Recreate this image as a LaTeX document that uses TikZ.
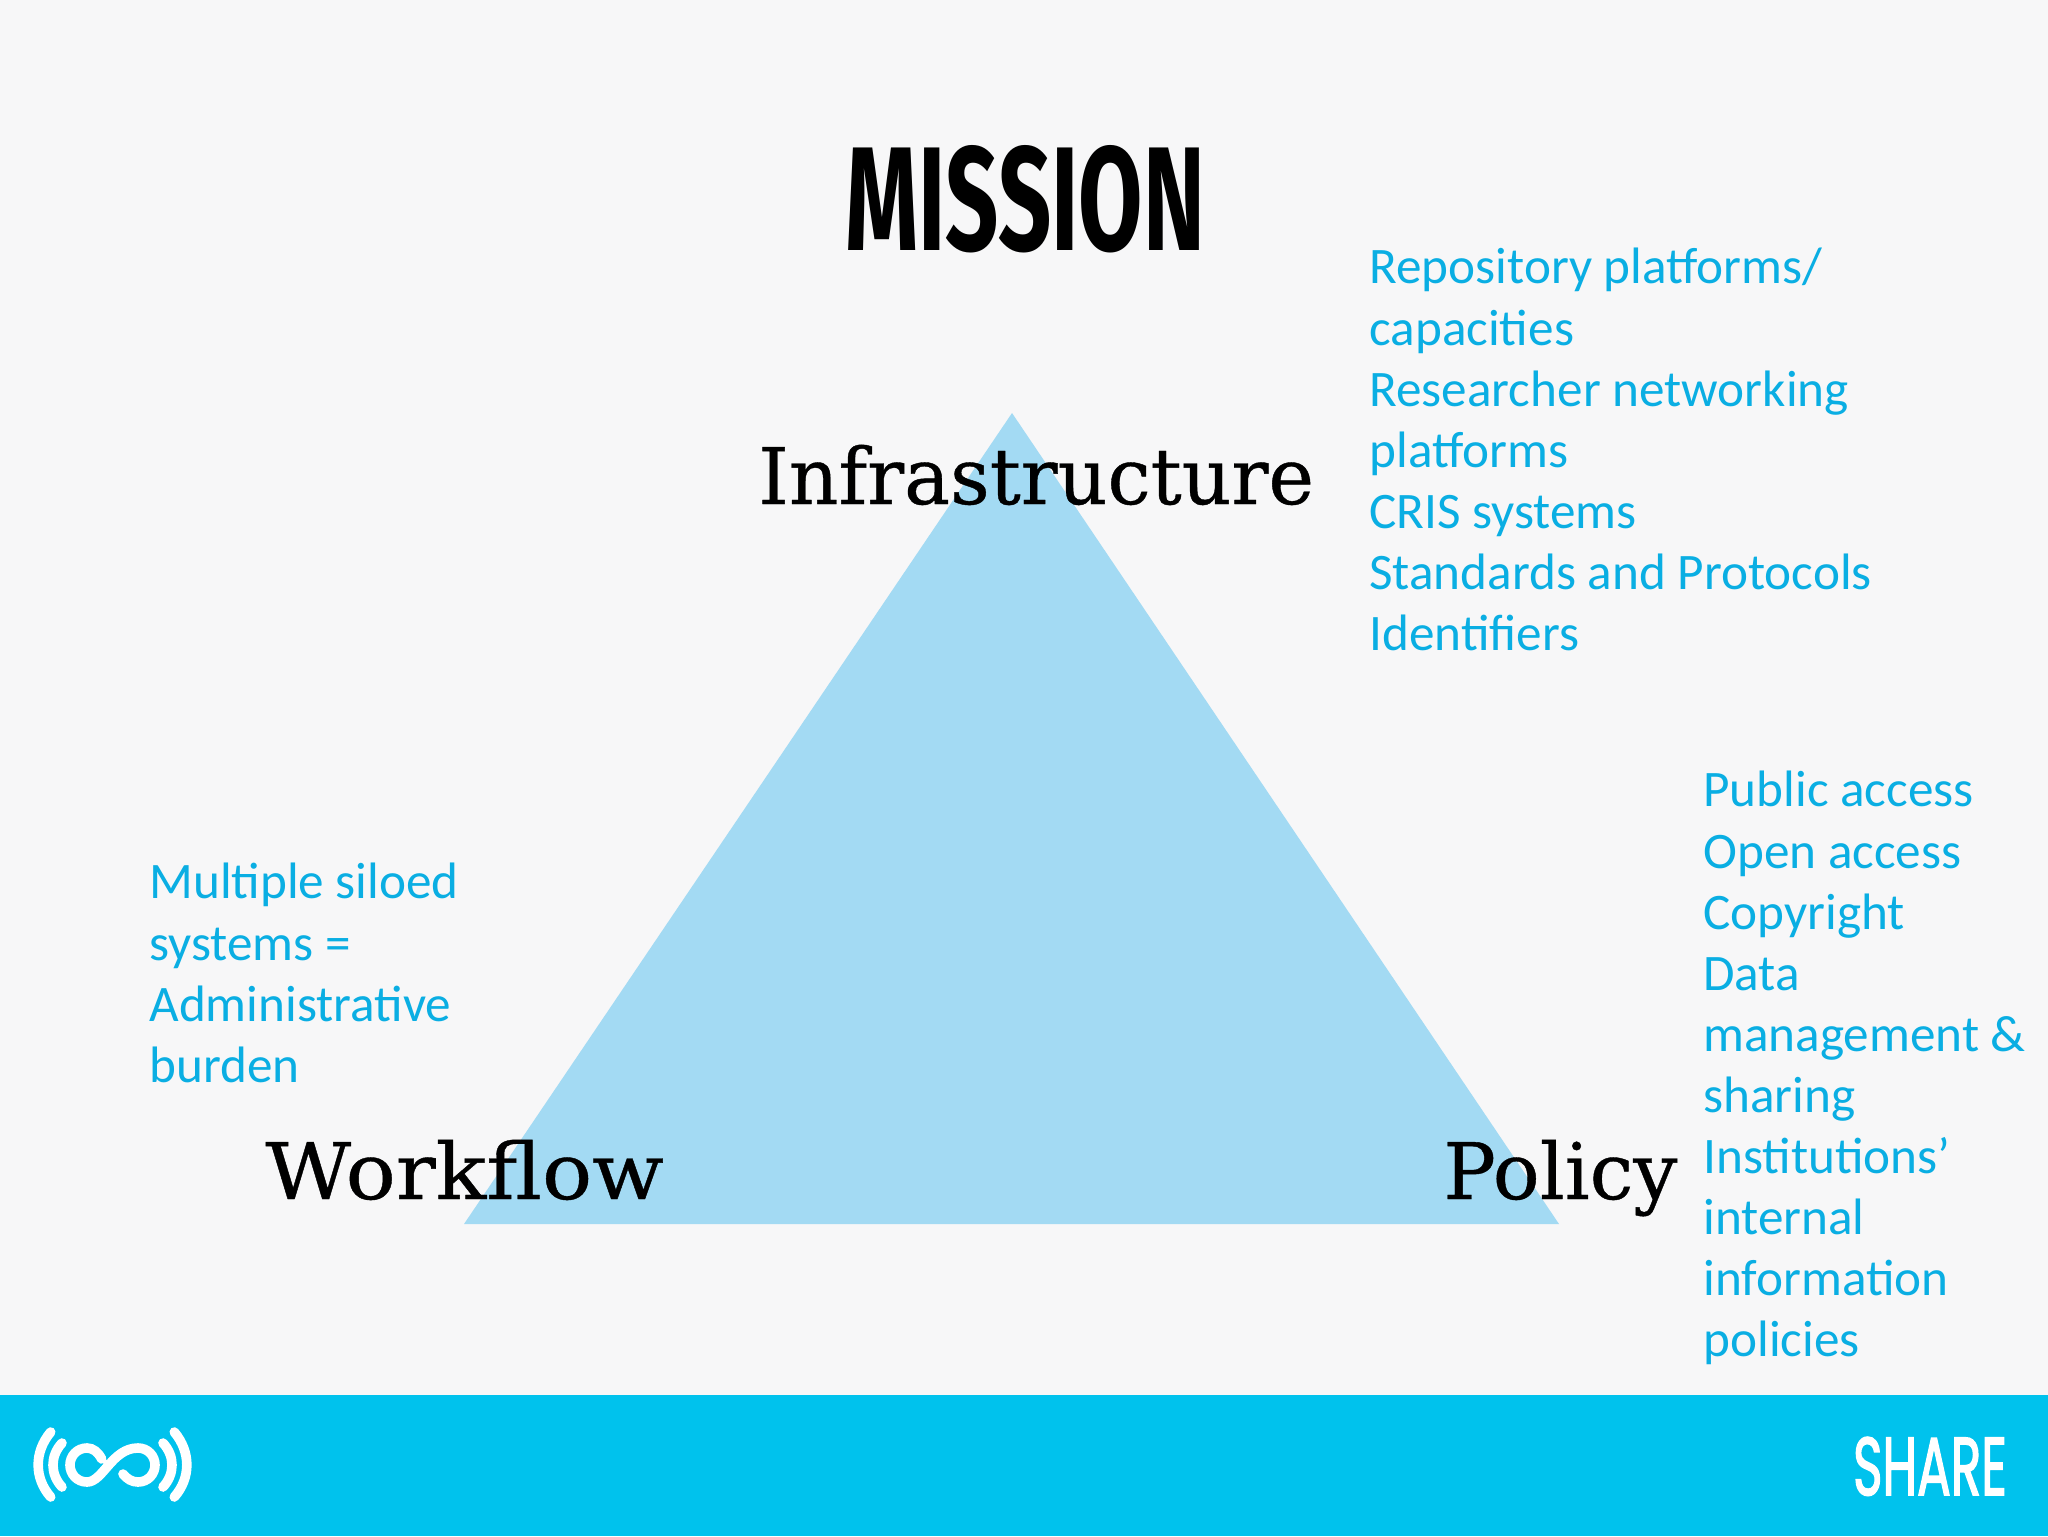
\documentclass[tikz,border=0pt]{standalone}
\usepackage{fontspec}
\setmainfont{Carlito}
\newfontfamily\slabfont[FakeBold=0.5]{DejaVu Serif}
\newfontfamily\titlefont{Fira Sans}
\newfontfamily\sharefont[FakeBold=2.2]{Poppins}
\definecolor{pagebg}{HTML}{F7F7F8}
\definecolor{barblue}{HTML}{00C2ED}
\definecolor{triblue}{HTML}{A3DAF3}
\definecolor{listblue}{HTML}{0AAEE3}
\tikzset{
    listtext/.style={anchor=north west, inner sep=0pt, align=left, text=listblue, font=\fontsize{25.6}{30.55}\selectfont},
    cornertext/.style={anchor=base west, inner sep=0pt, text=black, font=\fontsize{39}{44}\slabfont},
    logoline/.style={draw=white, line width=4.8pt, line cap=round}
}
\begin{document}
\begin{tikzpicture}[x=0.5pt, y=-0.5pt]
\useasboundingbox (0,0) rectangle (2048,1536);
\fill[pagebg] (0,0) rectangle (2048,1536);
\fill[barblue] (0,1395) rectangle (2048,1536);
\coordinate (apex) at (1012,413);
\coordinate (baseleft) at (464,1224);
\coordinate (baseright) at (1559,1224);
\fill[triblue] (apex) -- (baseright) -- (baseleft) -- cycle;
% headings
\node[anchor=base, inner sep=0pt, font=\fontsize{74}{80}\titlefont\bfseries, xscale=0.63] (mission) at (1025,250) {MISSION};
\node[cornertext, xscale=0.99] (infra) at (758,504) {Infrastructure};
\node[cornertext, xscale=1.07] (workflow) at (265,1199) {Workflow};
\node[cornertext] (policy) at (1443,1199) {Policy};
% lists
\node[listtext] (infralist) at (1369,248) {Repository platforms/\\capacities\\Researcher networking\\platforms\\CRIS systems\\Standards and Protocols\\Identifiers};
\node[listtext] (policylist) at (1703,771) {Public access\\Open access\\Copyright\\Data\\management \&\\sharing\\Institutions’\\internal\\information\\policies};
\node[listtext] (workflowlist) at (149,863) {Multiple siloed\\systems =\\Administrative\\burden};
% logo
\draw[logoline] (50.7,1432) .. controls (34,1452) and (34,1478) .. (50.7,1497);
\draw[logoline] (62,1443) .. controls (50,1456) and (50,1474) .. (62,1487);
\draw[logoline] (174.3,1432) .. controls (191,1452) and (191,1478) .. (174.3,1497);
\draw[logoline] (163,1443) .. controls (175,1456) and (175,1474) .. (163,1487);
\draw[logoline] (101.7,1459) .. controls (98,1452) and (93,1448) .. (87,1448)
    .. controls (77,1448) and (70,1456) .. (70,1465)
    .. controls (70,1474) and (77,1482) .. (87,1482)
    .. controls (103,1482) and (112,1448) .. (138,1448)
    .. controls (148,1448) and (155,1456) .. (155,1465)
    .. controls (155,1474) and (148,1482) .. (138,1482)
    .. controls (132,1482) and (127,1479) .. (123,1474);
\node[anchor=base, inner sep=0pt, text=white, font=\fontsize{41}{46}\sharefont, xscale=0.61] (share) at (1930,1495) {SHARE};
\end{tikzpicture}
\end{document}
